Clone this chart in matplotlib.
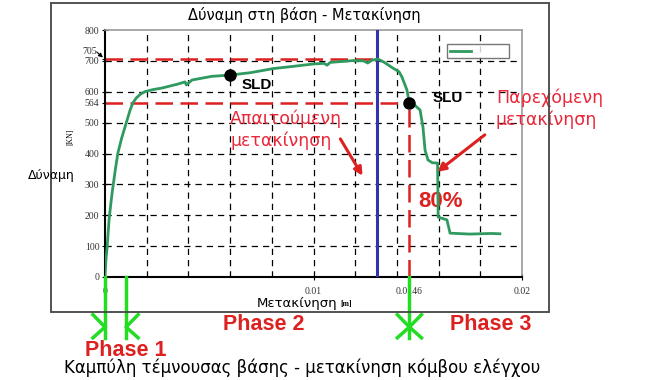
import matplotlib.pyplot as plt
from matplotlib.patches import Rectangle

# base force vs displacement (m, kN)
disp = [0, 0.00005, 0.0001, 0.0002, 0.00034, 0.0005, 0.00062, 0.0008, 0.00096,
        0.0012, 0.00134, 0.0015, 0.0017, 0.0019, 0.0023, 0.00273,
        0.0035, 0.00384, 0.0039, 0.00417, 0.00513, 0.006, 0.007, 0.00806, 0.009,
        0.01, 0.0105, 0.01065, 0.0108, 0.0119, 0.0124, 0.0126, 0.0128, 0.01309,
        0.0134, 0.0138, 0.0141, 0.01424, 0.01448, 0.01458, 0.0148, 0.01511,
        0.01525, 0.01535, 0.01549, 0.0157, 0.01595, 0.01598, 0.0164, 0.01655,
        0.0175, 0.0185, 0.01894]
force = [0, 60, 95, 190, 272, 350, 402, 450, 486,
         540, 564, 580, 592, 600, 607, 612,
         625, 632, 622, 638, 650, 654, 662, 675, 682,
         690, 692, 686, 695, 701, 700, 693, 702, 706,
         695, 677, 665, 648, 606, 570, 560, 541,
         486, 411, 379, 370, 369, 194, 185, 142,
         139, 141, 140]

x_grid = [0.002, 0.004, 0.006, 0.008, 0.01, 0.012, 0.014, 0.016, 0.018]
y_grid = [100, 200, 300, 400, 500, 600, 700]
x_ticks = [0, 0.01, 0.0146, 0.02]
x_labels = ["0", "0.01", "0.0146", "0.02"]
y_ticks = [0, 100, 200, 300, 400, 500, 564, 600, 700, 705, 800]
y_labels = ["0", "100", "200", "300", "400", "500", "564", "600", "700", "", "800"]

F_max = 705
F_slu = 564
d_req = 0.01303
sld = (0.006, 654)
slu = (0.0146, 564)
phase_x = [0, 0.00101, 0.0146]

W, H = 651, 380
fig = plt.figure(figsize=(W / 100, H / 100), dpi=100)
ax = fig.add_axes([105 / W, 1 - 277 / H, 417 / W, 247 / H])

# outer frame
fig.add_artist(Rectangle((51 / W, 1 - 312 / H), 498 / W, 309 / H, transform=fig.transFigure,
                         fill=False, ec='#444444', lw=1.3))

for gx in x_grid:
    ax.axvline(gx, color='black', lw=0.9, ls=(0, (5, 4)), zorder=1)
for gy in y_grid:
    ax.axhline(gy, color='black', lw=0.9, ls=(0, (5, 4)), zorder=1)

red = '#dd2020'
ax.plot([0, d_req], [F_max, F_max], color=red, lw=1.8, ls=(0, (7, 3)), zorder=2)
ax.plot([0, slu[0]], [F_slu, F_slu], color=red, lw=1.8, ls=(0, (7, 3)), zorder=2)
ax.plot([slu[0], slu[0]], [0, F_slu], color=red, lw=1.8, ls=(0, (7, 3)), zorder=2)
ax.axvline(d_req, color='#3333aa', lw=2.2, zorder=3)

line, = ax.plot(disp, force, color='#2f9a5f', lw=2.0, zorder=4)
ax.plot(*sld, 'o', color='black', ms=8, zorder=5)
ax.plot(*slu, 'o', color='black', ms=8, zorder=5)

ax.set_xlim(0, 0.02)
ax.set_ylim(0, 800)
ax.set_xticks(x_ticks)
ax.set_xticklabels(x_labels)
ax.set_yticks(y_ticks)
ax.set_yticklabels(y_labels)
ax.tick_params(axis='both', labelsize=7, labelcolor='#333333', direction='inout', length=4, pad=2)
for lab in ax.get_xticklabels() + ax.get_yticklabels():
    lab.set_family('Liberation Serif')
ax.tick_params(axis='x', pad=5)

# 705 label sits a little above its tick, as in the original
fig.text(97 / W, 1 - 52 / H, "705", fontsize=7, color='#333333', family='Liberation Serif',
         ha='right', va='center')

for s in ['left', 'bottom']:
    ax.spines[s].set_color('black')
    ax.spines[s].set_linewidth(1.5)
for s in ['top', 'right']:
    ax.spines[s].set_color('#999999')
    ax.spines[s].set_linewidth(1.2)

ax.annotate('', xy=(0, 705), xytext=(-0.0005, 735), annotation_clip=False,
            arrowprops=dict(arrowstyle='-|>', color='black', lw=0.8, mutation_scale=6))

leg = ax.legend([line], ['           '], loc='upper right', bbox_to_anchor=(0.98, 0.96),
                fontsize=6, frameon=True, fancybox=False, borderpad=0.3, handlelength=2.6)
leg.get_frame().set_edgecolor('#555555')
leg.get_frame().set_linewidth(1.0)

ax.text(0.00657, 622, "SLD", fontsize=11, fontweight='bold', family='Liberation Sans', va='center')
ax.text(0.01573, 580, "SLU", fontsize=11, fontweight='bold', family='Liberation Sans', va='center')
ax.text(0.01501, 243, "80%", fontsize=16, fontweight='bold', color=red, family='Liberation Sans',
        va='center')
ax.text(0.0060, 478, "Απαιτούμενη\nμετακίνηση", fontsize=12.5, color='#e8283a', va='center',
        ha='left', linespacing=1.25, zorder=6)
ax.text(0.01875, 546, "Παρεχόμενη\nμετακίνηση", fontsize=12.5, color='#e8283a', va='center',
        ha='left', linespacing=1.25, zorder=6)
ax.annotate('', xy=(0.01242, 320), xytext=(0.01122, 455),
            arrowprops=dict(arrowstyle='-|>', color=red, lw=2.2, mutation_scale=12))
ax.annotate('', xy=(0.01583, 335), xytext=(0.01832, 466), annotation_clip=False,
            arrowprops=dict(arrowstyle='-|>', color=red, lw=2.2, mutation_scale=12))

# phase markers below the axis
green = '#22dd22'
dx = 0.00058
for i, px in enumerate(phase_x):
    ax.plot([px, px], [0, -197], color=green, lw=2.5, clip_on=False, zorder=6)
    if i != 1:
        ax.plot([px - dx, px, px - dx], [-122, -162, -197], color=green, lw=2.5, clip_on=False)
    if i != 0:
        ax.plot([px + dx, px, px + dx], [-122, -162, -197], color=green, lw=2.5, clip_on=False)

fig.text(304 / W, 1 - 15 / H, "Δύναμη στη βάση - Μετακίνηση", fontsize=10.5, ha='center', va='center')
fig.text(51 / W, 1 - 175 / H, "Δύναμη", fontsize=9, ha='center', va='center')
fig.text(70 / W, 1 - 137 / H, "[KN]", fontsize=5.5, family='Liberation Serif', rotation=90,
         ha='center', va='center')
fig.text(297 / W, 1 - 303 / H, "Μετακίνηση", fontsize=9.5, ha='center', va='center')
fig.text(346 / W, 1 - 304 / H, "[m]", fontsize=5.5, family='Liberation Serif', fontweight='bold',
         ha='center', va='center')

for txt, cx, cy in [("Phase 1", 126, 350), ("Phase 2", 264, 325), ("Phase 3", 491, 325)]:
    fig.text(cx / W, 1 - cy / H, txt, fontsize=15.5, fontweight='bold', color=red,
             family='Liberation Sans', ha='center', va='center')

fig.text(302 / W, 1 - 368 / H, "Καμπύλη τέμνουσας βάσης - μετακίνηση κόμβου ελέγχου",
         fontsize=12, ha='center', va='center')

fig.savefig("out.png", dpi=100)
